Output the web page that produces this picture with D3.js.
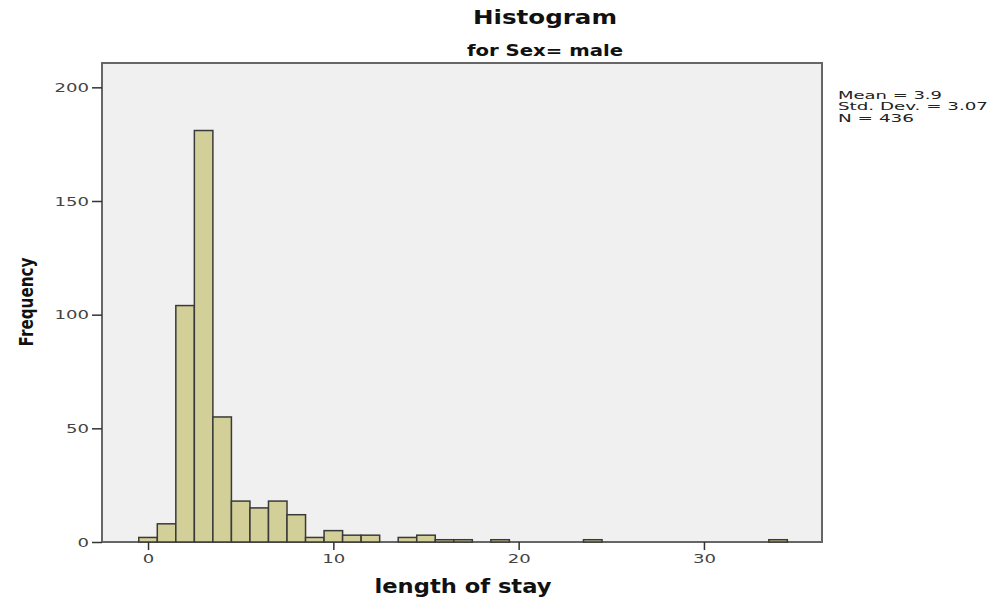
<!DOCTYPE html>
<html>
<head>
<meta charset="utf-8">
<script src="https://cdn.jsdelivr.net/npm/d3@7"></script>
<style>
  body { margin: 0; background: #fff; }
  svg { display: block; font-family: "DejaVu Sans", sans-serif; }
</style>
</head>
<body>
<div class="chart-container"></div>
<script>
// bin centres (days) and counts
var days = [0, 1, 2, 3, 4, 5, 6, 7, 8, 9, 10, 11, 12, 14, 15, 16, 17, 19, 24, 34];
var freq = [2, 8, 104, 181, 55, 18, 15, 18, 12, 2, 5, 3, 3, 2, 3, 1, 1, 1, 1, 1];
var xTicks = [0, 10, 20, 30];
var yTicks = [0, 50, 100, 150, 200];
var stats = ["Mean = 3.9", "Std. Dev. = 3.07", "N = 436"];

var W = 993, H = 603;
var plot = {left: 103, top: 63, right: 822, bottom: 542};

var x = d3.scaleLinear().domain([-2.43, 36.37]).range([plot.left, plot.right]),
    y = d3.scaleLinear().domain([0, 210.7]).range([plot.bottom, plot.top]);

var svg = d3.select(".chart-container").append("svg")
    .attr("width", W)
    .attr("height", H);

// plot frame
svg.append("rect")
    .attr("x", plot.left - 1)
    .attr("y", plot.top)
    .attr("width", plot.right - plot.left + 1)
    .attr("height", plot.bottom - plot.top)
    .attr("fill", "#f0f0f0")
    .attr("stroke", "#666")
    .attr("stroke-width", 2);

var bins = days.map(function(d, i) { return {day: d, n: freq[i]}; });

svg.append("g").attr("class", "bars")
  .selectAll("rect")
    .data(bins)
  .enter().append("rect")
    .attr("x", function(d) { return x(d.day - 0.5); })
    .attr("y", function(d) { return y(d.n); })
    .attr("width", function(d) { return x(d.day + 0.5) - x(d.day - 0.5); })
    .attr("height", function(d) { return y(0) - y(d.n); })
    .attr("fill", "#d3cf98")
    .attr("stroke", "#3a3a3a")
    .attr("stroke-width", 1.5);

var yAxis = d3.axisLeft(y).tickValues(yTicks).tickSize(10).tickPadding(3),
    xAxis = d3.axisBottom(x).tickValues(xTicks).tickSize(8).tickPadding(4);

var gy = svg.append("g")
    .attr("class", "y axis")
    .attr("transform", "translate(" + (plot.left - 1) + ",0)")
    .call(yAxis);
var gx = svg.append("g")
    .attr("class", "x axis")
    .attr("transform", "translate(0," + plot.bottom + ")")
    .call(xAxis);

// the original's digits are drawn wide, so stretch them a bit
[gx, gy].forEach(function(g) {
  g.select(".domain").remove();
  g.selectAll(".tick line").attr("stroke", "#333").attr("stroke-width", 1.5);
  g.selectAll(".tick text")
      .attr("fill", "#444")
      .attr("textLength", function(d) { return String(d).length * 11.5; })
      .attr("lengthAdjust", "spacingAndGlyphs")
      .style("font-size", "13px")
      .style("font-family", "DejaVu Sans, sans-serif");
});

// titles
svg.append("text")
    .attr("x", 545).attr("y", 24)
    .attr("text-anchor", "middle")
    .attr("textLength", 144).attr("lengthAdjust", "spacingAndGlyphs")
    .style("font-size", "20px").style("font-weight", "bold")
    .attr("fill", "#111")
    .text("Histogram");

svg.append("text")
    .attr("x", 545).attr("y", 56)
    .attr("text-anchor", "middle")
    .attr("textLength", 156).attr("lengthAdjust", "spacingAndGlyphs")
    .style("font-size", "15px").style("font-weight", "bold")
    .attr("fill", "#111")
    .text("for Sex= male");

svg.append("text")
    .attr("x", 463).attr("y", 593)
    .attr("text-anchor", "middle")
    .attr("textLength", 177).attr("lengthAdjust", "spacingAndGlyphs")
    .style("font-size", "19px").style("font-weight", "bold")
    .attr("fill", "#111")
    .text("length of stay");

svg.append("text")
    .attr("transform", "translate(33,302) rotate(-90)")
    .attr("text-anchor", "middle")
    .attr("textLength", 89).attr("lengthAdjust", "spacingAndGlyphs")
    .style("font-size", "20px").style("font-weight", "bold")
    .attr("fill", "#111")
    .text("Frequency");

// statistics box
var statWidths = [104, 150, 76];
svg.append("g").attr("class", "stats")
  .selectAll("text")
    .data(stats)
  .enter().append("text")
    .attr("x", 838)
    .attr("y", function(d, i) { return 98.5 + i * 11.5; })
    .attr("textLength", function(d, i) { return statWidths[i]; })
    .attr("lengthAdjust", "spacingAndGlyphs")
    .style("font-size", "11px")
    .attr("fill", "#222")
    .text(function(d) { return d; });
</script>
</body>
</html>
